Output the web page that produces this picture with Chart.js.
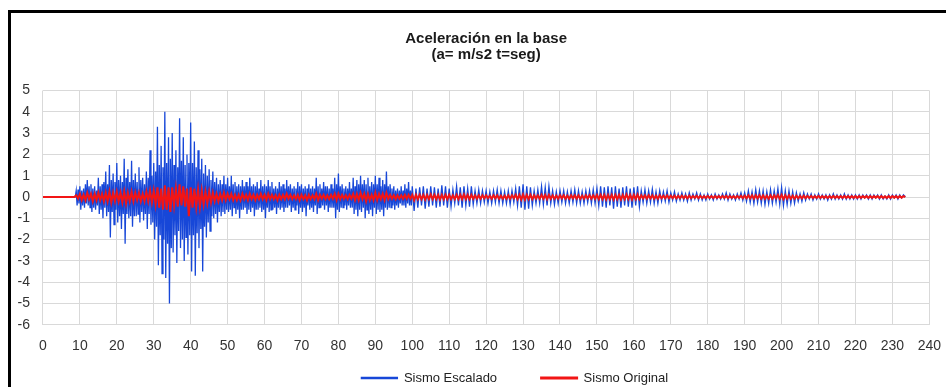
<!DOCTYPE html>
<html>
<head>
<meta charset="utf-8">
<script src="https://cdn.jsdelivr.net/npm/chart.js@4.4.1/dist/chart.umd.min.js"></script>
<style>
html,body{margin:0;padding:0;background:#fff;overflow:hidden}
#wrap{position:relative;width:946px;height:387px}
#frame{position:absolute;left:8px;top:10px;width:960px;height:400px;border-left:3px solid #000;border-top:3px solid #000;pointer-events:none}
canvas{display:block}
</style>
</head>
<body>
<div id="wrap"><canvas id="c" width="946" height="387" style="width:946px;height:387px"></canvas><div id="frame"></div></div>
<script>
// ---- data ----
const titleLines = ['Aceleración en la base', '(a= m/s2 t=seg)'];
const seriesNames = ['Sismo Escalado', 'Sismo Original'];
const xTicks = [0,10,20,30,40,50,60,70,80,90,100,110,120,130,140,150,160,170,180,190,200,210,220,230,240];
const yTicks = [-6,-5,-4,-3,-2,-1,0,1,2,3,4,5];

// Sismo Escalado, strong phase: samples every 0.25 s from t = 0 s to 99.75 s
const escaladoPaso1 = 0.25;
const escaladoFase1 = [
 0,0,0,0,0,0,0,0,0,0,0,0,0,0,0,0,0,0,0,0,
 0,0,0,0,0,0,0,0,0,0,0,0,0,0,0,0,0.3,-0.4,0.35,-0.3,
 0.5,-0.6,0.3,-0.4,0.4,-0.5,0.6,-0.3,0.8,-0.4,0.5,-0.5,0.6,-0.7,0.4,-0.5,0.5,-0.6,0.3,-0.4,
 0.9,-0.8,0.5,-0.6,0.6,-1.0,0.7,-0.5,1.2,-0.9,0.6,-0.7,1.5,-1.9,0.8,-0.7,1.1,-1.3,0.7,-0.6,
 1.6,-1.2,0.8,-0.9,1.0,-1.5,0.7,-0.8,1.8,-2.2,0.9,-0.8,1.3,-1.0,0.7,-0.9,1.7,-1.4,0.8,-0.9,
 1.1,-0.9,0.7,-0.8,1.4,-1.2,0.8,-0.7,0.9,-1.1,0.6,-0.8,1.2,-1.5,0.9,-0.8,2.2,-1.3,1.0,-1.2,
 1.6,-2.0,1.2,-1.4,3.3,-3.2,1.5,-1.8,2.4,-3.6,1.4,-2.0,4.0,-3.8,1.6,-2.2,2.8,-5.0,1.8,-2.4,
 3.0,-2.6,1.5,-1.8,2.2,-3.1,1.4,-1.6,3.7,-2.4,1.7,-2.0,2.8,-3.0,1.5,-1.9,2.0,-2.7,1.6,-1.8,
 3.5,-3.5,1.6,-1.8,2.6,-3.7,1.4,-1.7,2.2,-2.4,1.3,-1.5,1.8,-3.5,1.1,-1.4,1.5,-1.9,1.0,-1.2,
 1.3,-1.6,0.8,-0.9,1.2,-1.0,0.7,-0.8,0.9,-1.2,0.6,-0.7,0.8,-0.9,0.6,-0.7,1.0,-0.8,0.6,-0.6,
 0.9,-0.7,0.5,-0.6,1.0,-0.9,0.6,-0.5,0.7,-0.8,0.5,-0.6,0.6,-1.0,0.5,-0.6,0.8,-0.6,0.5,-0.5,
 0.7,-0.8,0.5,-0.6,0.9,-0.7,0.5,-0.5,0.6,-0.9,0.5,-0.6,0.7,-0.6,0.4,-0.5,0.8,-0.7,0.5,-0.6,
 0.6,-1.0,0.5,-0.5,0.8,-0.7,0.5,-0.6,0.7,-0.6,0.4,-0.5,0.5,-0.8,0.4,-0.5,0.7,-0.6,0.5,-0.5,
 0.6,-0.7,0.4,-0.5,0.8,-0.5,0.5,-0.4,0.6,-0.7,0.4,-0.5,0.5,-0.6,0.4,-0.4,0.7,-0.8,0.5,-0.5,
 0.6,-0.7,0.4,-0.5,0.5,-0.9,0.4,-0.4,0.6,-0.6,0.4,-0.5,0.5,-0.7,0.4,-0.4,0.9,-0.8,0.5,-0.5,
 0.6,-0.5,0.4,-0.4,0.7,-0.6,0.5,-0.4,0.5,-0.7,0.4,-0.5,0.6,-0.5,0.4,-0.5,0.9,-1.0,0.6,-0.6,
 1.1,-0.7,0.5,-0.5,0.6,-0.5,0.4,-0.4,0.5,-0.6,0.4,-0.4,0.7,-0.5,0.4,-0.5,0.9,-0.8,0.5,-0.6,
 0.8,-0.9,0.6,-0.6,1.0,-0.7,0.6,-0.5,0.8,-1.0,0.6,-0.6,0.9,-0.8,0.5,-0.6,0.7,-0.9,0.6,-0.5,
 1.0,-0.8,0.6,-0.6,0.9,-0.7,0.5,-0.6,0.8,-0.9,0.6,-0.5,1.2,-0.6,0.5,-0.5,0.6,-0.5,0.4,-0.4,
 0.5,-0.6,0.3,-0.4,0.4,-0.5,0.3,-0.3,0.5,-0.4,0.3,-0.4,0.6,-0.5,0.4,-0.3,0.7,-0.4,0.3,-0.4
];

// Sismo Escalado, coda: samples every 0.5 s from t = 100 s
const escaladoInicio2 = 100;
const escaladoPaso2 = 0.5;
const escaladoFase2 = [
 0.5,-0.66,0.4,-0.5,0.45,-0.4,0.5,-0.55,0.4,-0.45,0.5,-0.4,0.45,-0.5,0.4,-0.45,0.55,-0.4,0.5,-0.5,
 0.4,-0.45,0.35,-0.3,0.5,-0.4,0.45,-0.5,0.5,-0.4,0.4,-0.45,0.5,-0.35,0.3,-0.3,0.35,-0.3,0.3,-0.25,
 0.3,-0.3,0.25,-0.3,0.3,-0.25,0.35,-0.3,0.3,-0.3,0.25,-0.3,0.3,-0.35,0.3,-0.25,0.4,-0.4,0.5,-0.5,
 0.6,-0.6,0.5,-0.55,0.45,-0.4,0.3,-0.3,0.35,-0.3,0.5,-0.35,0.45,-0.4,0.5,-0.3,0.3,-0.35,0.25,-0.3,
 0.3,-0.25,0.3,-0.3,0.25,-0.3,0.3,-0.25,0.35,-0.3,0.3,-0.3,0.25,-0.3,0.3,-0.25,0.3,-0.3,0.35,-0.3,
 0.4,-0.4,0.5,-0.45,0.45,-0.5,0.5,-0.4,0.45,-0.55,0.5,-0.45,0.4,-0.5,0.45,-0.4,0.5,-0.45,0.4,-0.5,
 0.45,-0.4,0.5,-0.45,0.3,-0.25,0.35,-0.3,0.3,-0.25,0.37,-0.3,0.25,-0.3,0.3,-0.2,0.25,-0.2,0.3,-0.25,
 0.2,-0.15,0.25,-0.2,0.15,-0.15,0.2,-0.15,0.15,-0.2,0.2,-0.15,0.15,-0.1,0.2,-0.15,0.15,-0.15,0.1,-0.15,
 0.15,-0.1,0.1,-0.15,0.15,-0.1,0.1,-0.1,0.15,-0.1,0.2,-0.15,0.15,-0.1,0.1,-0.15,0.15,-0.1,0.2,-0.15,
 0.2,-0.2,0.3,-0.25,0.25,-0.3,0.35,-0.25,0.3,-0.3,0.3,-0.35,0.25,-0.3,0.35,-0.3,0.3,-0.25,0.4,-0.35,
 0.45,-0.4,0.3,-0.35,0.3,-0.3,0.25,-0.3,0.2,-0.2,0.15,-0.2,0.2,-0.15,0.15,-0.1,0.15,-0.15,0.1,-0.1,
 0.15,-0.1,0.1,-0.1,0.1,-0.15,0.1,-0.1,0.15,-0.1,0.1,-0.1,0.1,-0.1,0.15,-0.1,0.1,-0.1,0.1,-0.1,
 0.1,-0.1,0.1,-0.1,0.1,-0.05,0.1,-0.1,0.1,-0.1,0.1,-0.05,0.1,-0.1,0.1,-0.1,0.05,-0.1,0.1,-0.1,
 0.1,-0.05,0.1,-0.1,0.1,-0.05,0.1,0
];

// Sismo Original: samples every 0.5 s from t = 0 s
const originalPaso = 0.5;
const sismoOriginal = [
 0,0,0,0,0,0,0,0,0,0,0,0,0,0,0,0,0,0,0.08,-0.08,
 0.15,-0.15,0.1,-0.15,0.2,-0.1,0.15,-0.2,0.15,-0.15,0.2,-0.15,0.15,-0.2,0.2,-0.2,0.25,-0.25,0.2,-0.2,
 0.25,-0.2,0.2,-0.25,0.25,-0.3,0.2,-0.2,0.25,-0.2,0.2,-0.15,0.2,-0.2,0.15,-0.2,0.25,-0.2,0.3,-0.25,
 0.3,-0.35,0.45,-0.5,0.4,-0.6,0.55,-0.6,0.45,-0.7,0.45,-0.4,0.4,-0.45,0.6,-0.4,0.5,-0.45,0.4,-0.9,
 0.45,-0.5,0.4,-0.45,0.35,-0.45,0.3,-0.35,0.25,-0.3,0.25,-0.25,0.2,-0.2,0.15,-0.2,0.15,-0.15,0.2,-0.15,
 0.15,-0.1,0.15,-0.15,0.1,-0.15,0.1,-0.15,0.15,-0.1,0.1,-0.15,0.15,-0.1,0.1,-0.15,0.1,-0.1,0.15,-0.1,
 0.1,-0.15,0.15,-0.1,0.1,-0.1,0.08,-0.15,0.1,-0.1,0.1,-0.1,0.15,-0.08,0.1,-0.1,0.08,-0.1,0.1,-0.15,
 0.1,-0.1,0.08,-0.15,0.1,-0.1,0.08,-0.1,0.15,-0.15,0.1,-0.08,0.1,-0.1,0.08,-0.1,0.1,-0.08,0.15,-0.15,
 0.15,-0.1,0.1,-0.08,0.08,-0.1,0.1,-0.08,0.15,-0.15,0.15,-0.15,0.2,-0.1,0.15,-0.2,0.15,-0.15,0.1,-0.15,
 0.2,-0.15,0.15,-0.1,0.15,-0.15,0.2,-0.1,0.1,-0.08,0.08,-0.1,0.08,-0.08,0.08,-0.08,0.1,-0.08,0.1,-0.08,
 0.1,-0.15,0.1,-0.1,0.1,-0.1,0.1,-0.12,0.1,-0.1,0.12,-0.1,0.1,-0.1,0.1,-0.12,0.1,-0.1,0.1,-0.1,
 0.1,-0.1,0.08,-0.1,0.1,-0.1,0.1,-0.1,0.12,-0.1,0.1,-0.1,0.1,-0.08,0.08,-0.08,0.08,-0.08,0.08,-0.06,
 0.08,-0.06,0.06,-0.08,0.08,-0.06,0.08,-0.08,0.06,-0.08,0.06,-0.08,0.08,-0.08,0.08,-0.06,0.1,-0.1,0.1,-0.12,
 0.12,-0.12,0.1,-0.1,0.1,-0.1,0.08,-0.08,0.08,-0.08,0.1,-0.08,0.1,-0.1,0.1,-0.08,0.08,-0.08,0.06,-0.08,
 0.08,-0.06,0.08,-0.08,0.06,-0.08,0.08,-0.06,0.08,-0.08,0.08,-0.08,0.06,-0.08,0.08,-0.06,0.08,-0.08,0.08,-0.08,
 0.1,-0.1,0.1,-0.1,0.1,-0.12,0.1,-0.1,0.1,-0.12,0.1,-0.1,0.1,-0.12,0.1,-0.1,0.12,-0.1,0.1,-0.12,
 0.1,-0.1,0.12,-0.1,0.08,-0.06,0.08,-0.08,0.08,-0.06,0.08,-0.08,0.06,-0.08,0.08,-0.06,0.06,-0.06,0.08,-0.06,
 0.06,-0.05,0.06,-0.06,0.05,-0.05,0.06,-0.05,0.05,-0.06,0.06,-0.05,0.05,-0.04,0.06,-0.05,0.05,-0.05,0.04,-0.05,
 0.05,-0.04,0.04,-0.05,0.05,-0.04,0.04,-0.04,0.05,-0.04,0.06,-0.05,0.05,-0.04,0.04,-0.05,0.05,-0.04,0.06,-0.05,
 0.06,-0.06,0.08,-0.06,0.08,-0.08,0.08,-0.06,0.08,-0.08,0.08,-0.08,0.06,-0.08,0.08,-0.08,0.08,-0.06,0.1,-0.08,
 0.1,-0.1,0.08,-0.08,0.08,-0.08,0.06,-0.08,0.06,-0.06,0.05,-0.06,0.06,-0.05,0.05,-0.04,0.05,-0.05,0.04,-0.04,
 0.05,-0.04,0.04,-0.04,0.04,-0.05,0.04,-0.04,0.05,-0.04,0.04,-0.04,0.04,-0.04,0.05,-0.04,0.04,-0.04,0.04,-0.04,
 0.04,-0.04,0.04,-0.04,0.04,-0.03,0.04,-0.04,0.04,-0.04,0.04,-0.03,0.04,-0.04,0.04,-0.04,0.03,-0.04,0.04,-0.04,
 0.04,-0.03,0.04,-0.04,0.04,-0.03,0.04,0
];

// ---- chart ----
const FONT = '"Liberation Sans", Arial, sans-serif';
const toPoints = (arr, start, step) => arr.map((v, i) => ({x: start + i * step, y: v}));
const escaladoPts = toPoints(escaladoFase1, 0, escaladoPaso1).concat(toPoints(escaladoFase2, escaladoInicio2, escaladoPaso2));
const originalPts = toPoints(sismoOriginal, 0, originalPaso);

const shiftBoxes = {
  id: 'shiftBoxes',
  afterLayout(chart) {
    const lg = chart.legend, tt = chart.titleBlock;
    const ldx = 41;
    lg.left += ldx; lg.right += ldx;
    lg.top = 378 - lg.options.labels.padding - 6.5;
    lg.bottom = chart.height;
    const tdx = (chart.chartArea.left + chart.chartArea.right) / 2 - (tt.left + tt.right) / 2;
    tt.left += tdx; tt.right += tdx;
  }
};

new Chart(document.getElementById('c'), {
  type: 'line',
  data: {
    datasets: [
      {label: seriesNames[0], data: escaladoPts, borderColor: '#1747d8', backgroundColor: '#4a7dd8', borderWidth: 1.3, pointRadius: 0, tension: 0, order: 1},
      {label: seriesNames[1], data: originalPts, borderColor: '#f21515', backgroundColor: '#e84a4a', borderWidth: 2, pointRadius: 0, tension: 0, order: 0}
    ]
  },
  options: {
    responsive: false,
    animation: false,
    layout: {padding: {left: 4.5, right: 3, top: 0, bottom: 0}},
    plugins: {
      title: {display: true, text: titleLines, color: '#1a1a1a', font: {family: FONT, size: 15, weight: 'bold', lineHeight: 1.05}, padding: {top: 31, bottom: 28}},
      legend: {position: 'bottom', maxHeight: 20,
        labels: {boxWidth: 36, boxHeight: 1, color: '#222', font: {family: FONT, size: 13}, padding: 44,
          sort: (a, b) => a.datasetIndex - b.datasetIndex}},
      tooltip: {enabled: false}
    },
    scales: {
      x: {type: 'linear', min: xTicks[0], max: xTicks[xTicks.length - 1],
        afterBuildTicks: s => { s.ticks = xTicks.map(v => ({value: v})); },
        ticks: {padding: 5, color: '#333', font: {family: FONT, size: 14, lineHeight: 2.3}, maxRotation: 0, autoSkip: false},
        grid: {color: '#d9d9d9', drawTicks: false}, border: {display: false}},
      y: {type: 'linear', min: yTicks[0], max: yTicks[yTicks.length - 1],
        afterBuildTicks: s => { s.ticks = yTicks.map(v => ({value: v})); },
        ticks: {padding: 13, color: '#333', font: {family: FONT, size: 14}, autoSkip: false},
        grid: {color: '#d9d9d9', drawTicks: false}, border: {display: false}}
    }
  },
  plugins: [shiftBoxes]
});
</script>
</body>
</html>
